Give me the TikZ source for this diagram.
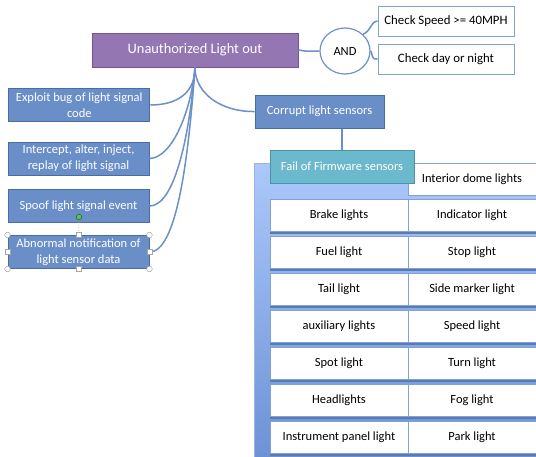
\documentclass[tikz,border=0pt]{standalone}
\usepackage{fontspec}
\setmainfont{Carlito}
\usetikzlibrary{shapes.geometric,calc}
\definecolor{purp}{RGB}{147,118,178}
\definecolor{purpd}{RGB}{112,86,146}
\definecolor{bluef}{RGB}{106,142,199}
\definecolor{blued}{RGB}{74,108,162}
\definecolor{tealf}{RGB}{108,184,204}
\definecolor{teald}{RGB}{74,148,168}
\definecolor{conn}{RGB}{108,144,200}
\definecolor{panelt}{RGB}{172,200,250}
\definecolor{panelb}{RGB}{108,146,214}
\definecolor{cellb}{RGB}{130,162,214}
\definecolor{rowsh}{RGB}{90,122,180}
\begin{document}
\begin{tikzpicture}[x=1pt,y=-1pt,
  every node/.style={font=\fontsize{12.5}{14.5}\selectfont, inner sep=1pt},
  topbox/.style={draw=purpd, fill=purp, text=white, line width=1pt, minimum width=206pt, minimum height=34pt, font=\fontsize{14.4}{16}\selectfont},
  bluebox/.style={draw=blued, fill=bluef, text=white, line width=1pt, minimum width=141pt, minimum height=33pt, align=center, font=\fontsize{12.5}{16}\selectfont},
  checkbox/.style={draw=cellb, fill=white, line width=0.8pt, minimum width=136pt, minimum height=30pt, font=\fontsize{12.8}{15}\selectfont},
  andnode/.style={ellipse, draw=conn, fill=white, line width=1.2pt, minimum width=50pt, minimum height=46pt},
  tealbox/.style={draw=teald, fill=tealf, text=white, line width=1pt, minimum width=144pt, minimum height=33pt},
  cell/.style={draw=cellb, fill=white, line width=0.6pt, minimum height=32pt},
  lcell/.style={cell, minimum width=138pt},
  rcell/.style={cell, minimum width=128pt},
  link/.style={draw=conn, line width=1.5pt},
  handle/.style={draw=gray!70, fill=white, line width=0.5pt}
]
\useasboundingbox (0,0) rectangle (536,456);
\fill[white] (0,0) rectangle (536,456);

% panel behind the table
\shade[top color=panelt, bottom color=panelb] (254,163) rectangle (540,458);
\draw[draw=cellb!80!white, line width=0.8pt] (254,458) -- (254,163) -- (540,163);

% top part
\node[topbox] (root) at (195,50) {Unauthorized Light out};
\node[andnode] (and) at (345,51) {AND};
\node[checkbox] (speed) at (446,21) {Check Speed >= 40MPH};
\node[checkbox] (day) at (446,59) {Check day or night};

\draw[link] (root.east) .. controls (310,52) and (308,51) .. (and.west);
\draw[link] (and.north east) .. controls (372,30) and (370,22) .. (speed.west);
\draw[link] (and.east) .. controls (373,52) and (370,60) .. (day.west);

% left boxes
\node[bluebox] (exploit) at (79.3,105) {Exploit bug of light signal\\code};
\node[bluebox] (intercept) at (78.5,158.5) {Intercept, alter, inject,\\replay of light signal};
\node[bluebox] (spoof) at (78.5,206) {Spoof light signal event};
\node[bluebox] (abnormal) at (78.5,252) {Abnormal notification of\\light sensor data};
\node[bluebox, minimum width=129pt] (corrupt) at (319.5,111.5) {Corrupt light sensors};

\draw[link] (root.south) .. controls (195,94) and (176,105) .. (exploit.east);
\draw[link] (root.south) .. controls (195,94) and (222,112) .. (corrupt.west);
\draw[link] (root.south) .. controls (191,112) and (172,158) .. (intercept.east);
\draw[link] (root.south) .. controls (189,140) and (174,206) .. (spoof.east);
\draw[link] (root.south) .. controls (188,165) and (176,252) .. (abnormal.east);

% selection handles on the last box
\coordinate (rot) at (79,217);
\draw[gray!70, line width=0.6pt, dotted] (rot) -- (abnormal.north);
\fill[green!55!black!60!white, draw=green!40!black] (rot) circle (2.8pt);
\foreach \a in {north west, north east, south west, south east}
  \draw[handle] (abnormal.\a) circle (2.8pt);
\foreach \a in {north, south, west, east}
  \draw[handle] ($(abnormal.\a)+(-2.5,-2.5)$) rectangle ($(abnormal.\a)+(2.5,2.5)$);

% firmware group
\node[rcell, minimum height=32pt] (dome) at (472,179) {Interior dome lights};
\node[tealbox] (fail) at (342,166.5) {Fail of Firmware sensors};
\draw[link] (corrupt.south -| fail.north) -- (fail.north);

\foreach \i/\l/\r in {0/Brake lights/Indicator light, 1/Fuel light/Stop light, 2/Tail light/Side marker light, 3/auxiliary lights/Speed light, 4/Spot light/Turn light, 5/Headlights/Fog light, 6/Instrument panel light/Park light}{
  \fill[rowsh] (270,{200+37*\i}) rectangle (538,{233.5+37*\i});
  \node[lcell] (l\i) at (339,{215.5+37*\i}) {\l};
  \node[rcell] (r\i) at (472,{215.5+37*\i}) {\r};
}
\end{tikzpicture}
\end{document}
